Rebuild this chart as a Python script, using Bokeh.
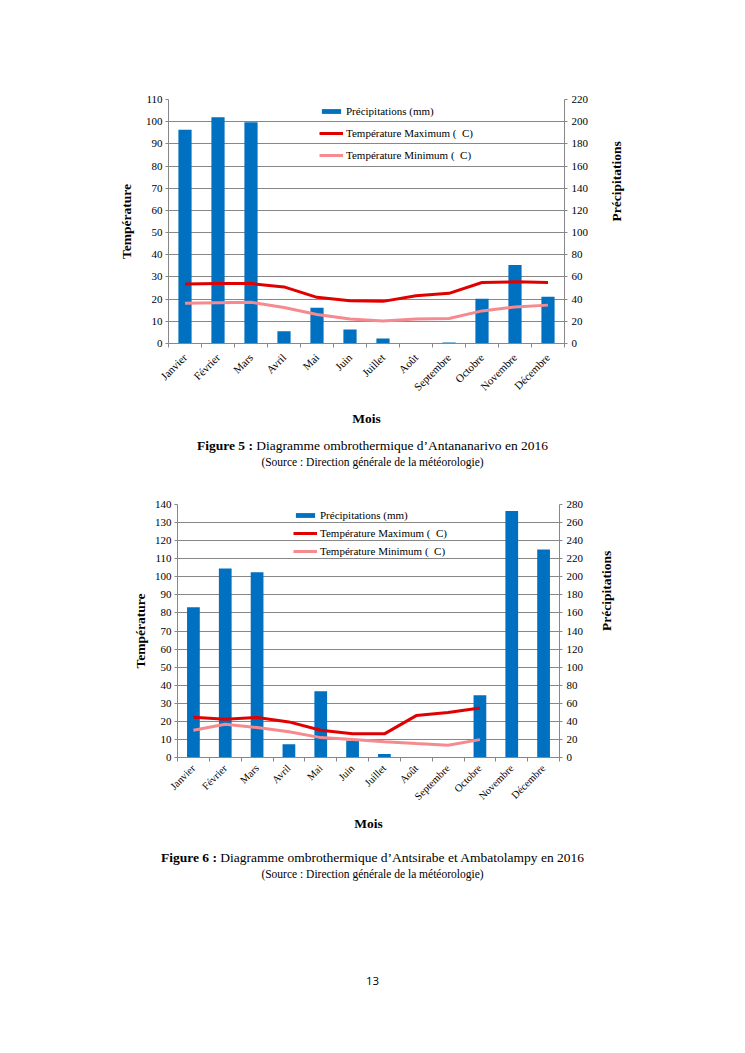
import math
import numpy as np
from bokeh.plotting import figure
from bokeh.models import (Range1d, LinearAxis, FixedTicker, Spacer,
                          Legend, LegendItem, Div, ColumnDataSource)
from bokeh.layouts import column, row
from bokeh.embed import file_html
from bokeh.resources import INLINE

# ---------------- data ----------------
months = ["Janvier", "Février", "Mars", "Avril", "Mai", "Juin", "Juillet",
          "Août", "Septembre", "Octobre", "Novembre", "Décembre"]

# Figure 5 : Antananarivo 2016
precip_tana = [192.7, 203.9, 199.4, 11.1, 32.2, 12.6, 4.5, 0.5, 1.0, 40.4, 70.8, 42.2]
tmax_tana = [26.8, 27.0, 27.0, 25.5, 20.8, 19.3, 19.0, 21.5, 22.6, 27.5, 27.8, 27.5]
tmin_tana = [18.1, 18.4, 18.6, 16.2, 13.1, 11.0, 10.1, 11.0, 11.3, 14.7, 16.5, 17.3]

# Figure 6 : Antsirabe et Ambatolampy 2016
precip_ants = [166.2, 209.3, 204.9, 14.7, 73.3, 18.5, 4.0, 0.0, 0.0, 68.9, 272.7, 230.3]
tmax_ants = [22.3, 21.2, 22.1, 19.7, 15.1, 13.1, 13.1, 23.2, 24.9, 27.4, np.nan, np.nan]
tmin_ants = [15.1, 18.4, 16.6, 14.2, 11.0, 10.0, 8.7, 7.7, 6.8, 9.9, np.nan, np.nan]

temp_ticks_1 = list(range(0, 111, 10))
precip_ticks_1 = list(range(0, 221, 20))
temp_ticks_2 = list(range(0, 141, 10))
precip_ticks_2 = list(range(0, 281, 20))

legend_labels = ["Précipitations (mm)", "Température Maximum (  C)", "Température Minimum (  C)"]

FONT = "Liberation Serif"
BLUE = "#0070C0"
RED = "#E00000"
PINK = "#F58A8F"
GRID = "#878787"


def make_chart(precip, tmax, tmin, temp_ticks, precip_ticks, geom):
    x = [i + 1 for i in range(len(months))]
    src = ColumnDataSource(dict(x=x, precip=precip, tmax=tmax, tmin=tmin))
    p = figure(frame_width=geom["fw"], frame_height=geom["fh"],
               min_border_left=geom["bl"], min_border_right=geom["br"],
               min_border_top=geom["bt"], min_border_bottom=geom["bb"],
               x_range=Range1d(0.5, len(months) + 0.5),
               y_range=Range1d(temp_ticks[0], temp_ticks[-1]),
               output_backend="svg", toolbar_location=None,
               background_fill_color="white", border_fill_color="white")
    p.outline_line_color = None
    p.extra_y_ranges = {"precip": Range1d(precip_ticks[0], precip_ticks[-1])}

    # grid
    p.xgrid.visible = False
    p.ygrid.ticker = FixedTicker(ticks=temp_ticks)
    p.ygrid.grid_line_color = GRID
    p.ygrid.grid_line_width = 1

    # bottom axis
    xa = p.xaxis[0]
    xa.ticker = FixedTicker(ticks=x, minor_ticks=[v - 0.5 for v in x] + [x[-1] + 0.5])
    xa.major_label_overrides = {v: m for v, m in zip(x, months)}
    xa.major_tick_out = 0
    xa.major_tick_in = 0
    xa.minor_tick_out = 4
    xa.minor_tick_in = 0
    xa.minor_tick_line_color = GRID
    xa.axis_line_color = GRID
    xa.major_label_orientation = math.pi / 4
    xa.major_label_text_font = FONT
    xa.major_label_text_font_size = geom["xfs"]
    xa.major_label_text_color = "black"
    xa.major_label_standoff = geom["xstand"]
    xa.axis_label = "Mois"
    xa.axis_label_text_font = FONT
    xa.axis_label_text_font_style = "bold"
    xa.axis_label_text_font_size = "13.5px"
    xa.axis_label_text_color = "black"
    xa.axis_label_standoff = geom["xlstand"]

    # left axis
    ya = p.yaxis[0]
    ya.ticker = FixedTicker(ticks=temp_ticks)
    ya.minor_tick_line_color = None
    ya.major_tick_out = 3
    ya.major_tick_in = 0
    ya.major_tick_line_color = GRID
    ya.axis_line_color = GRID
    ya.major_label_text_font = FONT
    ya.major_label_text_font_size = "11px"
    ya.major_label_text_color = "black"
    ya.major_label_standoff = 3
    ya.axis_label = "Température"
    ya.axis_label_text_font = FONT
    ya.axis_label_text_font_style = "bold"
    ya.axis_label_text_font_size = "13.5px"
    ya.axis_label_text_color = "black"
    ya.axis_label_standoff = geom["ylstand"]

    # right axis
    ra = LinearAxis(y_range_name="precip", ticker=FixedTicker(ticks=precip_ticks))
    ra.minor_tick_line_color = None
    ra.major_tick_out = 3
    ra.major_tick_in = 0
    ra.major_tick_line_color = GRID
    ra.axis_line_color = GRID
    ra.major_label_text_font = FONT
    ra.major_label_text_font_size = "11px"
    ra.major_label_text_color = "black"
    ra.major_label_standoff = 4
    ra.axis_label = "Précipitations"
    ra.axis_label_text_font = FONT
    ra.axis_label_text_font_style = "bold"
    ra.axis_label_text_font_size = "13.5px"
    ra.axis_label_text_color = "black"
    ra.axis_label_standoff = geom["rlstand"]
    ra.axis_label_orientation = math.pi / 2
    p.add_layout(ra, "right")

    bars = p.vbar(x="x", top="precip", width=0.4, source=src, y_range_name="precip",
                  fill_color=BLUE, line_color=None)
    lmax = p.line("x", "tmax", source=src, line_color=RED, line_width=3)
    lmin = p.line("x", "tmin", source=src, line_color=PINK, line_width=3)

    legend = Legend(items=[LegendItem(label=legend_labels[0], renderers=[bars]),
                           LegendItem(label=legend_labels[1], renderers=[lmax]),
                           LegendItem(label=legend_labels[2], renderers=[lmin])],
                    location=geom["legloc"])
    legend.background_fill_alpha = 0
    legend.border_line_color = None
    legend.padding = 0
    legend.margin = 0
    legend.spacing = geom["legspace"]
    legend.glyph_width = 24
    legend.glyph_height = 6
    legend.label_height = 12
    legend.label_standoff = 3
    legend.label_text_font = FONT
    legend.label_text_font_size = "11px"
    legend.label_text_color = "black"
    p.add_layout(legend)
    return p


geom1 = dict(fw=396, fh=244, bl=168, br=173, bt=99, bb=93, xfs="11px", xstand=8,
             xlstand=11, ylstand=9, rlstand=25, legloc=(151, 182), legspace=10)
geom2 = dict(fw=382, fh=253, bl=168, br=178, bt=28, bb=88, xfs="10.5px", xstand=5,
             xlstand=7, ylstand=4, rlstand=20, legloc=(116, 200), legspace=6)

p1 = make_chart(precip_tana, tmax_tana, tmin_tana, temp_ticks_1, precip_ticks_1, geom1)
p2 = make_chart(precip_ants, tmax_ants, tmin_ants, temp_ticks_2, precip_ticks_2, geom2)

W = 745
CAP = ("<div style=\"width:" + str(W) + "px;text-align:center;font-family:'Liberation Serif';"
       "color:black;padding-top:{pt}px;\">"
       "<div style='font-size:13.5px;line-height:16px;'><b>{fig}</b> {title}</div>"
       "<div style='font-size:11.5px;line-height:16px;'>{src}</div></div>")

cap1 = Div(text=CAP.format(pt=2, fig="Figure 5 :",
                           title="Diagramme ombrothermique d\u2019Antananarivo en 2016",
                           src="(Source : Direction générale de la météorologie)"),
           width=W, height=40, margin=(0, 0, 0, 0))
cap2 = Div(text=CAP.format(pt=5, fig="Figure 6 :",
                           title="Diagramme ombrothermique d\u2019Antsirabe et Ambatolampy en 2016",
                           src="(Source : Direction générale de la météorologie)"),
           width=W, height=40, margin=(0, 0, 0, 0))
page = Div(text="<div style=\"width:" + str(W) + "px;text-align:center;font-family:'Open Sans';"
                "font-size:11.5px;line-height:14px;padding-top:89px;color:black;\">13</div>",
           width=W, height=110, margin=(0, 0, 0, 0))

layout = column(row(p1, spacing=0), cap1,
                row(Spacer(width=9, height=10), p2, spacing=0),
                cap2, page, spacing=0)

open("out.html", "w").write(file_html(layout, INLINE))
